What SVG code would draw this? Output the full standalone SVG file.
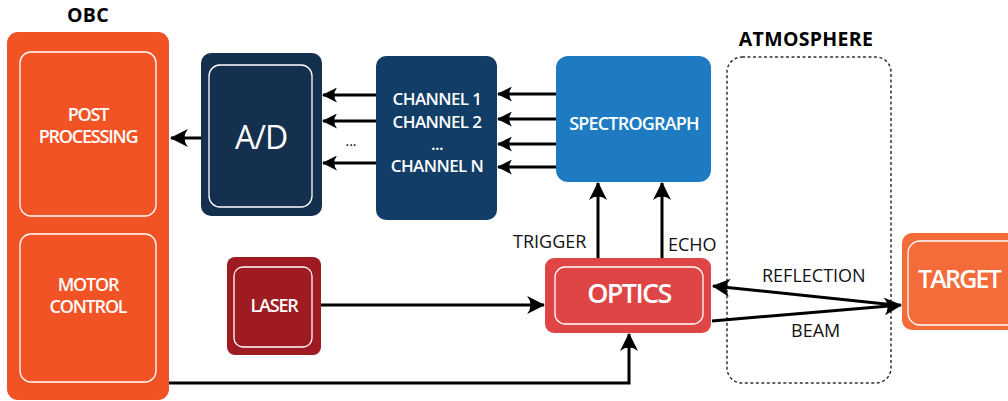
<svg xmlns="http://www.w3.org/2000/svg" width="1008" height="401" viewBox="0 0 1008 401">
<defs>
<style>
.in{fill:none;stroke:#fff;stroke-width:1.3}
.t{font-family:"Open Sans","Liberation Sans",sans-serif;fill:#fff;text-anchor:middle;font-weight:600}
.lbl{font-family:"Open Sans","Liberation Sans",sans-serif;fill:#111;font-size:18px;letter-spacing:0px}
.hd{font-family:"Open Sans","Liberation Sans",sans-serif;fill:#000;font-size:19.5px;font-weight:700;text-anchor:middle;letter-spacing:0.3px}
.c{fill:none;stroke:#000;stroke-width:3}
</style>
<marker id="ah" viewBox="0 0 16 16" refX="15" refY="8" markerWidth="18" markerHeight="18" markerUnits="userSpaceOnUse" orient="auto">
<path d="M16,8 L0,0 Q6,8 0,16 Z" fill="#000"/>
</marker>
<marker id="ahs" viewBox="0 0 16 16" refX="15" refY="8" markerWidth="15" markerHeight="15" markerUnits="userSpaceOnUse" orient="auto">
<path d="M16,8 L0,0 Q6,8 0,16 Z" fill="#000"/>
</marker>
</defs>
<rect width="1008" height="401" fill="#fff"/>

<text class="hd" x="88" y="22">OBC</text>
<text class="hd" x="806" y="46">ATMOSPHERE</text>

<g id="atmosphere">
<rect x="727" y="57" width="164" height="326" rx="15" fill="none" stroke="#333" stroke-width="1.5" stroke-dasharray="3,2.5"/>
</g>

<g id="obc">
<rect x="7" y="32" width="162" height="368" rx="11" fill="#F15325"/>
</g>
<g id="post-processing">
<rect class="in" x="20" y="52" width="136" height="164" rx="11"/>
<text class="t" x="88" y="121" font-size="18" letter-spacing="-1.2">POST</text>
<text class="t" x="88" y="143" font-size="18" letter-spacing="-1.2">PROCESSING</text>
</g>
<g id="motor-control">
<rect class="in" x="20" y="234" width="136" height="148" rx="11"/>
<text class="t" x="88" y="291" font-size="18" letter-spacing="-1.2">MOTOR</text>
<text class="t" x="88" y="313" font-size="18" letter-spacing="-1.2">CONTROL</text>
</g>

<g id="ad">
<rect x="201" y="53" width="121" height="163" rx="10" fill="#15304F"/>
<rect class="in" x="209" y="65" width="103" height="142" rx="11"/>
<text class="t" x="261" y="149" font-size="32" style="font-weight:400" letter-spacing="-1">A/D</text>
</g>

<g id="channels">
<rect x="376" y="56" width="121" height="164" rx="10" fill="#113D66"/>
<text class="t" x="437" y="105" font-size="17" letter-spacing="-0.6">CHANNEL 1</text>
<text class="t" x="437" y="128" font-size="17" letter-spacing="-0.6">CHANNEL 2</text>
<text class="t" x="437" y="150" font-size="17" letter-spacing="-0.6">...</text>
<text class="t" x="437" y="172" font-size="17" letter-spacing="-0.6">CHANNEL N</text>
</g>

<g id="spectrograph">
<rect x="556" y="56" width="155" height="126" rx="12" fill="#1E7BC1"/>
<text class="t" x="634" y="130" font-size="18" letter-spacing="-0.8">SPECTROGRAPH</text>
</g>

<g id="laser">
<rect x="227" y="257" width="94" height="98" rx="8" fill="#9D1B21"/>
<rect class="in" x="234" y="267" width="78" height="80" rx="9"/>
<text class="t" x="274" y="312" font-size="18" letter-spacing="-1.2">LASER</text>
</g>

<g id="optics">
<rect x="545" y="258" width="166" height="75" rx="9" fill="#E04546"/>
<rect class="in" x="555" y="267" width="148" height="57" rx="10"/>
<text class="t" x="629" y="303" font-size="27" letter-spacing="-1.6">OPTICS</text>
</g>

<g id="target">
<rect x="902" y="233" width="120" height="97" rx="10" fill="#F36C3A"/>
<rect class="in" x="908" y="241" width="110" height="84" rx="12"/>
<text class="t" x="959" y="288" font-size="25" letter-spacing="-1.8">TARGET</text>
</g>

<g id="connectors">
<line class="c" x1="201" y1="138" x2="171" y2="138" marker-end="url(#ah)"/>
<line class="c" x1="376" y1="95" x2="323" y2="95" marker-end="url(#ahs)"/>
<line class="c" x1="376" y1="121" x2="323" y2="121" marker-end="url(#ahs)"/>
<line class="c" x1="376" y1="163" x2="323" y2="163" marker-end="url(#ahs)"/>
<line class="c" x1="556" y1="94" x2="498" y2="94" marker-end="url(#ahs)"/>
<line class="c" x1="556" y1="119" x2="498" y2="119" marker-end="url(#ahs)"/>
<line class="c" x1="556" y1="144" x2="498" y2="144" marker-end="url(#ahs)"/>
<line class="c" x1="556" y1="167" x2="498" y2="167" marker-end="url(#ahs)"/>
<line class="c" x1="598" y1="258" x2="598" y2="183" marker-end="url(#ah)"/>
<line class="c" x1="662" y1="258" x2="662" y2="183" marker-end="url(#ah)"/>
<line class="c" x1="321" y1="305" x2="544" y2="305" marker-end="url(#ah)"/>
<polyline class="c" points="169,383 629,383 629,334" marker-end="url(#ah)"/>
<line class="c" x1="895" y1="305" x2="713" y2="286" marker-end="url(#ah)"/>
<line class="c" x1="712" y1="321" x2="901" y2="305" marker-end="url(#ah)"/>
</g>

<text x="351" y="146" font-family="Open Sans, Liberation Sans, sans-serif" font-size="14" fill="#000" text-anchor="middle">...</text>
<text class="lbl" x="513" y="248">TRIGGER</text>
<text class="lbl" x="668" y="251">ECHO</text>
<text class="lbl" x="762" y="282">REFLECTION</text>
<text class="lbl" x="791" y="337">BEAM</text>
</svg>
